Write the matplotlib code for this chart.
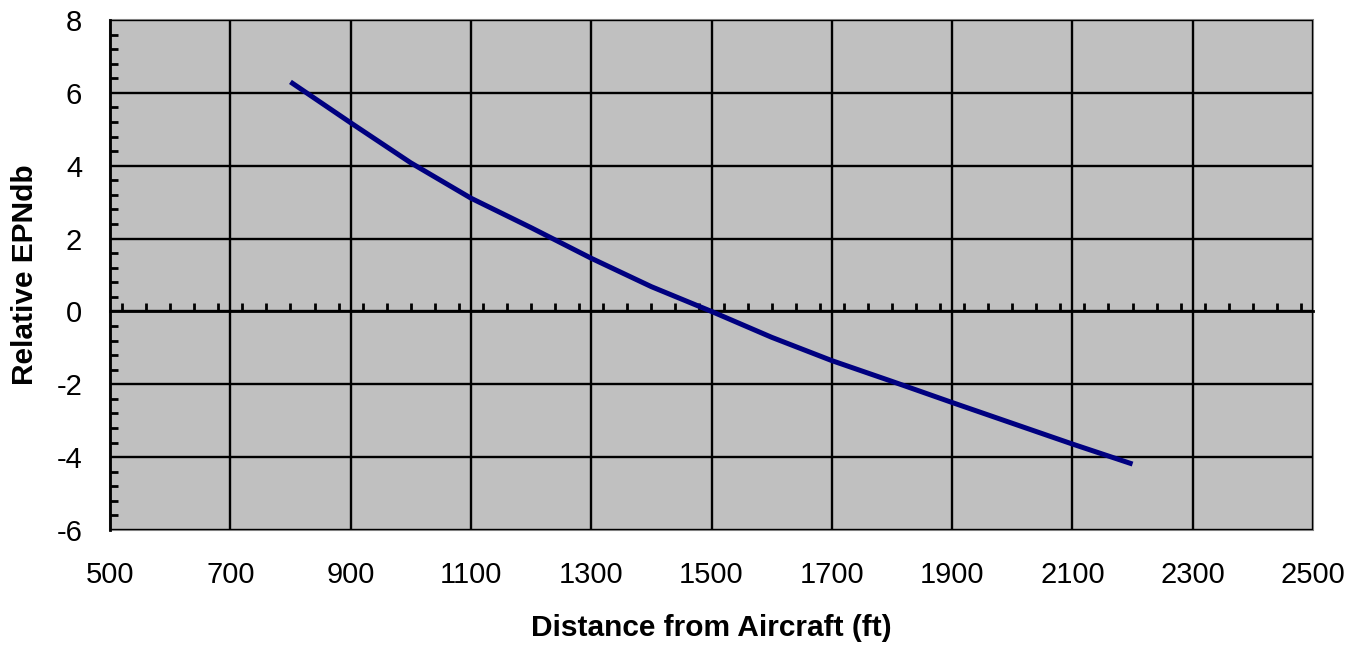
import matplotlib.pyplot as plt
from matplotlib.ticker import MultipleLocator

# distance from aircraft (ft) and relative EPNdb
distance = [800, 900, 1000, 1100, 1200, 1300, 1400, 1500,
            1600, 1700, 1800, 1900, 2000, 2100, 2200]
epndb = [6.3, 5.18, 4.08, 3.11, 2.3, 1.46, 0.68, 0.0,
         -0.71, -1.35, -1.92, -2.5, -3.07, -3.64, -4.19]

x_ticks = list(range(500, 2501, 200))
y_ticks = list(range(-6, 9, 2))

plt.rcParams['font.family'] = ['Liberation Sans', 'DejaVu Sans']
plt.rcParams['axes.unicode_minus'] = False

fig = plt.figure(figsize=(13.52, 6.47), dpi=100)
ax = fig.add_axes([110 / 1352, 1 - 530 / 647, 1203 / 1352, 510 / 647])

ax.set_facecolor('#c0c0c0')
ax.patch.set_edgecolor('#808080')
ax.patch.set_linewidth(1.5)

ax.plot(distance, epndb, color='#000080', linewidth=3.6, solid_capstyle='butt', zorder=3)

ax.set_xlim(x_ticks[0], x_ticks[-1])
ax.set_ylim(y_ticks[0], y_ticks[-1])
ax.set_xticks(x_ticks)
ax.set_yticks(y_ticks)
ax.grid(True, color='black', linewidth=1.7)
ax.set_axisbelow(True)

# x axis line crosses at y = 0, labels stay at the bottom
for s in ['top', 'right']:
    ax.spines[s].set_visible(False)
ax.spines['bottom'].set_position(('data', 0))
ax.spines['bottom'].set_linewidth(2)
ax.spines['left'].set_linewidth(2)
ax.xaxis.set_minor_locator(MultipleLocator(40))
ax.yaxis.set_minor_locator(MultipleLocator(0.4))
ax.tick_params(axis='x', which='both', direction='in', labelbottom=False)
ax.tick_params(axis='x', which='major', length=0)
ax.tick_params(axis='x', which='minor', length=6, width=2)
ax.tick_params(axis='y', which='major', length=0, pad=20, labelsize=21)
ax.tick_params(axis='y', which='minor', direction='in', length=6, width=2)

sec = ax.secondary_xaxis('bottom')
sec.set_xticks(x_ticks)
sec.spines['bottom'].set_visible(False)
sec.tick_params(axis='x', length=0, pad=22, labelsize=21)
sec.set_xlabel('Distance from Aircraft (ft)', fontsize=21.5, fontweight='bold', labelpad=18)

ax.set_ylabel('Relative EPNdb', fontsize=21.5, fontweight='bold')
ax.yaxis.set_label_coords(-71 / 1203, 0.5)

fig.savefig('out.png', dpi=100)
